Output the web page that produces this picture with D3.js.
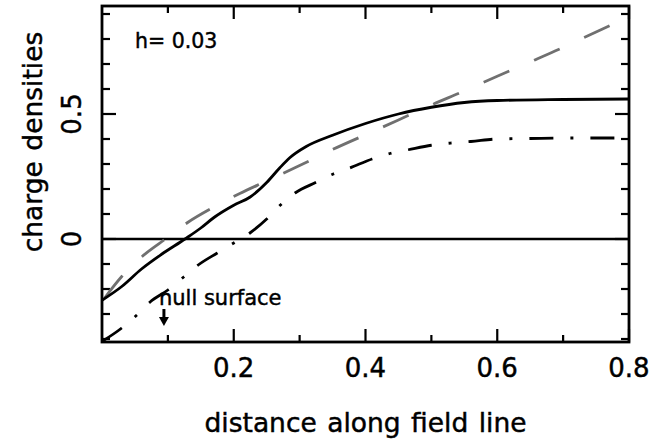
<!DOCTYPE html>
<html><head><meta charset="utf-8">
<script src="https://cdn.jsdelivr.net/npm/d3@7"></script>
<style>body{margin:0;background:#fff}svg{display:block}text{font-family:"DejaVu Sans",sans-serif;fill:#000;stroke:#000;stroke-width:0.45px}</style>
</head><body><svg id="c" width="671" height="440"></svg>
<script>
// solid curve
const solidX = [0, 0.03, 0.06, 0.09, 0.126, 0.15, 0.17, 0.2, 0.225, 0.25, 0.27, 0.285, 0.31, 0.35, 0.4, 0.45, 0.5, 0.55, 0.6, 0.7, 0.8];
const solidY = [-0.245, -0.19, -0.12, -0.062, 0, 0.044, 0.086, 0.135, 0.168, 0.226, 0.285, 0.325, 0.37, 0.415, 0.462, 0.5, 0.527, 0.546, 0.554, 0.558, 0.56];
// gray dashed curve
const dashX = [0, 0.03, 0.06, 0.09, 0.13, 0.17, 0.21, 0.25, 0.3, 0.35, 0.4, 0.45, 0.5, 0.55, 0.6, 0.65, 0.7, 0.75, 0.8];
const dashY = [-0.25, -0.15, -0.072, -0.012, 0.066, 0.128, 0.183, 0.232, 0.294, 0.358, 0.417, 0.476, 0.536, 0.592, 0.651, 0.708, 0.766, 0.828, 0.888];
// dash-dot curve
const ddX = [0, 0.03, 0.053, 0.073, 0.1, 0.124, 0.146, 0.175, 0.2, 0.225, 0.25, 0.27, 0.293, 0.326, 0.351, 0.376, 0.41, 0.437, 0.465, 0.5, 0.53, 0.56, 0.6, 0.65, 0.7, 0.8];
const ddY = [-0.41, -0.356, -0.304, -0.252, -0.204, -0.152, -0.104, -0.056, -0.016, 0.025, 0.08, 0.134, 0.184, 0.228, 0.26, 0.284, 0.32, 0.342, 0.357, 0.375, 0.384, 0.39, 0.4, 0.402, 0.404, 0.404];
const xTickLabels = ["0.2", "0.4", "0.6", "0.8"];
const xMajor = [0.2, 0.4, 0.6, 0.8];
const xMinor = [0.1, 0.3, 0.5, 0.7];
const yTickLabels = ["0", "0.5"];
const yMajor = [0, 0.5];
const yMinor = [-0.4, -0.3, -0.2, -0.1, 0.1, 0.2, 0.3, 0.4, 0.6, 0.7, 0.8, 0.9];
const nullX = 0.094;

const svg = d3.select("#c");
const x = d3.scaleLinear().domain([0, 0.8]).range([102, 629]);
const y = d3.scaleLinear().domain([-0.412, 0.932]).range([342, 6]);
const [x0, x1] = x.range(), [y0, y1] = y.range();

const g = svg.append("g");
function vt(v, len) {
  g.append("line").attr("x1", x(v)).attr("x2", x(v)).attr("y1", y0).attr("y2", y0 - len).attr("stroke", "#000").attr("stroke-width", 2.2);
  g.append("line").attr("x1", x(v)).attr("x2", x(v)).attr("y1", y1).attr("y2", y1 + len).attr("stroke", "#000").attr("stroke-width", 2.2);
}
function ht(v, len) {
  g.append("line").attr("y1", y(v)).attr("y2", y(v)).attr("x1", x0).attr("x2", x0 + len).attr("stroke", "#000").attr("stroke-width", 2.2);
  g.append("line").attr("y1", y(v)).attr("y2", y(v)).attr("x1", x1).attr("x2", x1 - len).attr("stroke", "#000").attr("stroke-width", 2.2);
}
xMajor.forEach(v => vt(v, 13));
xMinor.forEach(v => vt(v, 7));
yMajor.forEach(v => ht(v, 14));
yMinor.forEach(v => ht(v, 8));

// zero line
g.append("line").attr("x1", x0).attr("x2", x1).attr("y1", y(0)).attr("y2", y(0)).attr("stroke", "#000").attr("stroke-width", 2.6);

const line = d3.line().x(d => x(d[0])).y(d => y(d[1])).curve(d3.curveMonotoneX);
svg.append("clipPath").attr("id", "pc").append("rect").attr("x", x0).attr("y", y1).attr("width", x1 - x0).attr("height", y0 - y1);
const pg = svg.append("g").attr("clip-path", "url(#pc)");

pg.append("path").datum(dashX.map((v, i) => [v, dashY[i]])).attr("d", line)
  .attr("fill", "none").attr("stroke", "#707070").attr("stroke-width", 2.8).attr("stroke-dasharray", "28,27").attr("stroke-dashoffset", 50);
pg.append("path").datum(ddX.map((v, i) => [v, ddY[i]])).attr("d", line)
  .attr("fill", "none").attr("stroke", "#000").attr("stroke-width", 2.8).attr("stroke-dasharray", "24,17,3,17");
pg.append("path").datum(solidX.map((v, i) => [v, solidY[i]])).attr("d", line)
  .attr("fill", "none").attr("stroke", "#000").attr("stroke-width", 2.8);

// frame
svg.append("rect").attr("x", x0).attr("y", y1).attr("width", x1 - x0).attr("height", y0 - y1)
  .attr("fill", "none").attr("stroke", "#000").attr("stroke-width", 2.8);

// tick labels
xMajor.forEach((v, i) => {
  svg.append("text").attr("x", x(v)).attr("y", 377).attr("text-anchor", "middle").attr("font-size", 26).text(xTickLabels[i]);
});
yMajor.forEach((v, i) => {
  svg.append("text").attr("transform", `translate(81,${y(v)}) rotate(-90)`).attr("text-anchor", "middle").attr("font-size", 26).text(yTickLabels[i]);
});

// titles
svg.append("text").attr("x", (x0 + x1) / 2).attr("y", 432).attr("text-anchor", "middle").attr("font-size", 26.5).attr("word-spacing", 2).text("distance along field line");
svg.append("text").attr("transform", "translate(42,142) rotate(-90)").attr("text-anchor", "middle").attr("font-size", 26.5).attr("word-spacing", 2).text("charge densities");

// annotations
svg.append("text").attr("x", 135).attr("y", 48).attr("font-size", 20.5).text("h= 0.03");
svg.append("text").attr("x", x(nullX) - 5).attr("y", 305).attr("font-size", 21).text("null surface");
const ax = x(nullX);
svg.append("line").attr("x1", ax).attr("x2", ax).attr("y1", 309).attr("y2", 319).attr("stroke", "#000").attr("stroke-width", 3);
svg.append("path").attr("d", `M${ax - 5},317L${ax + 5},317L${ax},326Z`).attr("fill", "#000");
</script></body></html>
